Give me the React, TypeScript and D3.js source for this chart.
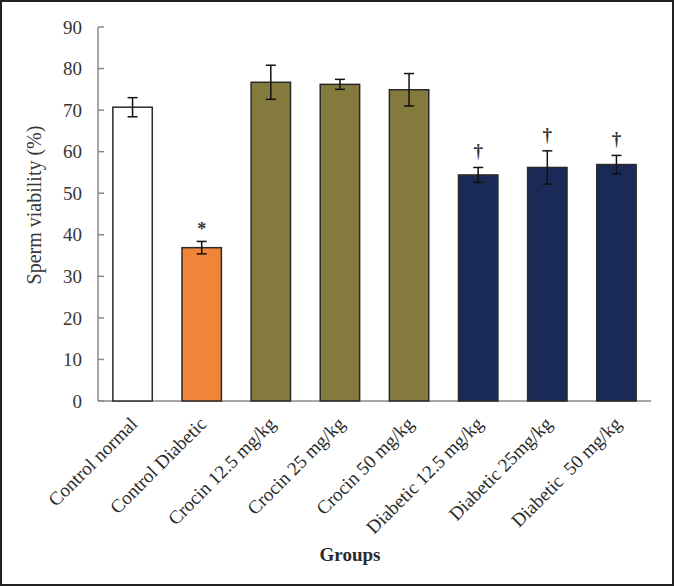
import React from "react";
import * as d3 from "d3";

const categories = [
  "Control normal",
  "Control Diabetic",
  "Crocin 12.5 mg/kg",
  "Crocin 25 mg/kg",
  "Crocin 50 mg/kg",
  "Diabetic 12.5 mg/kg",
  "Diabetic 25mg/kg",
  "Diabetic  50 mg/kg",
];
const values = [70.7, 36.9, 76.7, 76.2, 74.9, 54.4, 56.2, 56.9];
const errors = [2.3, 1.5, 4.1, 1.2, 3.9, 1.8, 4.0, 2.2];
const marks = ["", "*", "", "", "", "†", "†", "†"];
const colors = ["#ffffff", "#f0853a", "#857a3d", "#857a3d", "#857a3d", "#1a2a58", "#1a2a58", "#1a2a58"];
const yTicks = [0, 10, 20, 30, 40, 50, 60, 70, 80, 90];

const W = 674;
const H = 586;
const left = 98;
const right = 651;
const top = 27;
const bottom = 401;

export default function App() {
  const x = d3
    .scaleBand<string>()
    .domain(categories)
    .range([left, right])
    .paddingInner(0.43)
    .paddingOuter(0.215);
  const y = d3.scaleLinear().domain([0, 90]).range([bottom, top]);
  const font = "'Liberation Serif', 'Times New Roman', serif";
  const textColor = "#363636";

  return (
    <svg
      width={W}
      height={H}
      style={{ position: "absolute", left: 0, top: 0, background: "#fff" }}
      fontFamily={font}
    >
      <rect x={1} y={1} width={W - 2} height={H - 2} fill="#fff" stroke="#222" strokeWidth={2} />
      {/* axes */}
      <line x1={left} x2={left} y1={top} y2={bottom} stroke="#8a8a8a" strokeWidth={1.5} />
      <line x1={left} x2={right} y1={bottom} y2={bottom} stroke="#8a8a8a" strokeWidth={1.5} />
      {yTicks.map((t) => (
        <g key={t}>
          <line x1={left} x2={left + 6} y1={y(t)} y2={y(t)} stroke="#8a8a8a" strokeWidth={1.5} />
          <text
            x={left - 16}
            y={y(t)}
            dy="0.35em"
            textAnchor="end"
            fontSize={19}
            fill={textColor}
          >
            {t}
          </text>
        </g>
      ))}
      {categories.map((c, i) => {
        const bx = x(c)!;
        const bw = x.bandwidth();
        const cx = bx + bw / 2;
        const v = values[i];
        const e = errors[i];
        return (
          <g key={c}>
            <rect
              x={bx}
              y={y(v)}
              width={bw}
              height={y(0) - y(v)}
              fill={colors[i]}
              stroke="#2a2a2a"
              strokeWidth={1.5}
            />
            <line x1={cx} x2={cx} y1={y(v + e)} y2={y(v - e)} stroke="#111" strokeWidth={1.5} />
            <line x1={cx - 5} x2={cx + 5} y1={y(v + e)} y2={y(v + e)} stroke="#111" strokeWidth={1.5} />
            <line x1={cx - 5} x2={cx + 5} y1={y(v - e)} y2={y(v - e)} stroke="#111" strokeWidth={1.5} />
            {marks[i] && (
              <text
                x={cx}
                y={y(v + e) - (marks[i] === "*" ? 6 : 10)}
                textAnchor="middle"
                fontSize={marks[i] === "*" ? 18 : 19}
                fontWeight="bold"
                fill="#333"
              >
                {marks[i]}
              </text>
            )}
            <text
              transform={`translate(${cx + 6},${bottom + 24}) rotate(-45)`}
              textAnchor="end"
              fontSize={19}
              fill="#2a2a2a"
              style={{ whiteSpace: "pre" }}
            >
              {c}
            </text>
          </g>
        );
      })}
      <text
        transform={`translate(41,205) rotate(-90)`}
        textAnchor="middle"
        fontSize={20}
        fill={textColor}
      >
        Sperm viability (%)
      </text>
      <text x={350} y={561} textAnchor="middle" fontSize={19} fontWeight="bold" fill="#2a2a2a">
        Groups
      </text>
    </svg>
  );
}
